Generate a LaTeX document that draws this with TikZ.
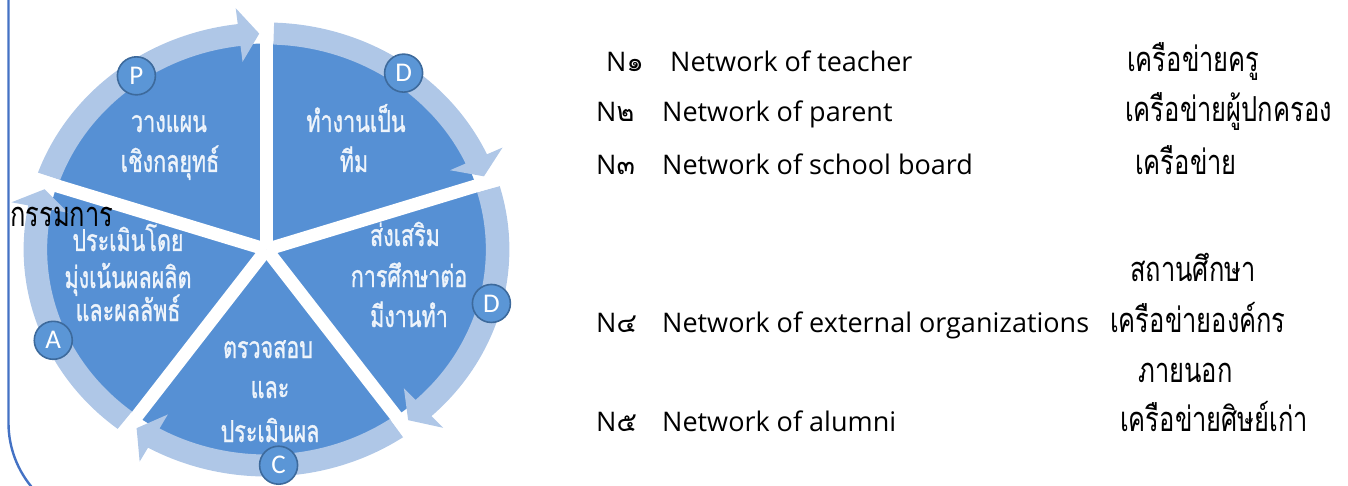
\documentclass[tikz,border=0pt]{standalone}
\usepackage{graphicx}
\usepackage{fontspec}
\newfontfamily\thaifont[Script=Thai]{Loma}
\newfontfamily\thaiseg[Script=Thai,FakeBold=1.2]{Loma}
\newfontfamily\latinfont{Open Sans}
\newfontfamily\badgefont{Carlito}
\definecolor{pieblue}{HTML}{5690D4}
\definecolor{ringblue}{HTML}{AFC7E7}
\definecolor{badgefill}{HTML}{5B96D6}
\definecolor{badgedraw}{HTML}{3D6A9C}
\definecolor{segwhite}{HTML}{EEF4FB}
\definecolor{borderblue}{HTML}{4472C4}
\newcommand\tallseg[1]{\scalebox{1}[1.4]{#1}}
\newcommand\tallside[1]{\scalebox{1}[1.35]{#1}}
\tikzset{
  piefill/.style={fill=pieblue},
  ringfill/.style={fill=ringblue},
  gapline/.style={draw=white, line width=13pt},
  badge/.style={circle, fill=badgefill, draw=badgedraw, line width=1.6pt, minimum size=38pt, inner sep=0pt, text=white, font=\badgefont\fontsize{27}{27}\selectfont},
  segtext/.style={anchor=base, text=segwhite, inner sep=0pt, font=\thaiseg\fontsize{21.5}{24}\selectfont},
  sidetext/.style={anchor=base west, inner sep=0pt, text=black, font=\thaifont\fontsize{25.5}{28}\selectfont},
  entext/.style={anchor=base west, inner sep=0pt, text=black, font=\latinfont\fontsize{27}{30}\selectfont},
  numtext/.style={anchor=base west, inner sep=0pt, text=black, font=\latinfont\fontsize{27}{30}\selectfont},
  frameline/.style={draw=borderblue, line width=2.4pt},
}
\begin{document}
\begin{tikzpicture}[x=1pt,y=1pt]
\useasboundingbox (0,0) rectangle (1348,-486);
% pie
\begin{scope}[shift={(266.5,-249.5)}, xscale=1.07]
  \fill[piefill] (0,0) circle[radius=206];
  \foreach \sa in {162,90,18,-54,-126} {
    \pgfmathsetmacro\angS{\sa-1.8}
    \pgfmathsetmacro\angT{\sa-72+1.8}
    \pgfmathsetmacro\angB{\angT+5}
    \fill[ringfill] (\angS:227) arc[start angle=\angS, end angle=\angB, radius=227]
      -- (\angB:243) -- (\angT:216) -- (\angB:189) -- (\angB:205)
      arc[start angle=\angB, end angle=\angS, radius=205] -- cycle;
  }
  \foreach \g in {162,90,18,-54,-126} {
    \draw[gapline] (0,0) -- (\g:250);
  }
  \node[badge] (bP) at (125:212) {P};
  \node[badge] (bD1) at (54:218) {D};
  \node[badge] (bD2) at (-14.4:217) {D};
  \node[badge] (bC) at (-87:216) {C};
  \node[badge] (bA) at (204.5:219) {A};
\end{scope}
% segment texts
\node[segtext] (p1) at (169,-132) {\tallseg{วางแผน}};
\node[segtext] (p2) at (170,-172) {\tallseg{เชิงกลยุทธ์}};
\node[segtext] (d1) at (356,-132) {\tallseg{ทำงานเป็น}};
\node[segtext] (d2) at (354,-172) {\tallseg{ทีม}};
\node[segtext] (e1) at (405,-246) {\tallseg{ส่งเสริม}};
\node[segtext] (e2) at (409,-287) {\tallseg{การศึกษาต่อ}};
\node[segtext] (e3) at (409,-327) {\tallseg{มีงานทำ}};
\node[segtext] (c1) at (268,-358) {\tallseg{ตรวจสอบ}};
\node[segtext] (c2) at (270,-398) {\tallseg{และ}};
\node[segtext] (c3) at (270,-442) {\tallseg{ประเมินผล}};
\node[segtext] (a1) at (128,-251) {\tallseg{ประเมินโดย}};
\node[segtext] (a2) at (128,-288) {\tallseg{มุ่งเน้นผลผลิต}};
\node[segtext] (a3) at (128,-321) {\tallseg{และผลลัพธ์}};
% frame line
\draw[frameline] (8.5,5) -- (8.5,-423) arc[start angle=180, end angle=222, radius=100];
\node[sidetext] (kam) at (10,-227) {\tallside{กรรมการ}};
% right column
\node[numtext] (n1) at (606,-72) {N{\thaifont ๑}};
\node[entext] (t1) at (670,-72) {Network of teacher};
\node[sidetext] (h1) at (1127,-72) {\tallside{เครือข่ายครู}};
\node[numtext] (n2) at (596,-122) {N{\thaifont ๒}};
\node[entext] (t2) at (662,-122) {Network of parent};
\node[sidetext] (h2) at (1125,-122) {\tallside{เครือข่ายผู้ปกครอง}};
\node[numtext] (n3) at (596,-175) {N{\thaifont ๓}};
\node[entext] (t3) at (662,-175) {Network of school board};
\node[sidetext] (h3) at (1135,-175) {\tallside{เครือข่าย}};
\node[sidetext] (h3b) at (1130,-281) {\tallside{สถานศึกษา}};
\node[numtext] (n4) at (596,-332) {N{\thaifont ๔}};
\node[entext] (t4) at (662,-332) {Network of external organizations};
\node[sidetext] (h4) at (1110,-332) {\tallside{เครือข่ายองค์กร}};
\node[sidetext] (h4b) at (1138,-382) {\tallside{ภายนอก}};
\node[numtext] (n5) at (596,-431) {N{\thaifont ๕}};
\node[entext] (t5) at (662,-431) {Network of alumni};
\node[sidetext] (h5) at (1120,-431) {\tallside{เครือข่ายศิษย์เก่า}};
\end{tikzpicture}
\end{document}
